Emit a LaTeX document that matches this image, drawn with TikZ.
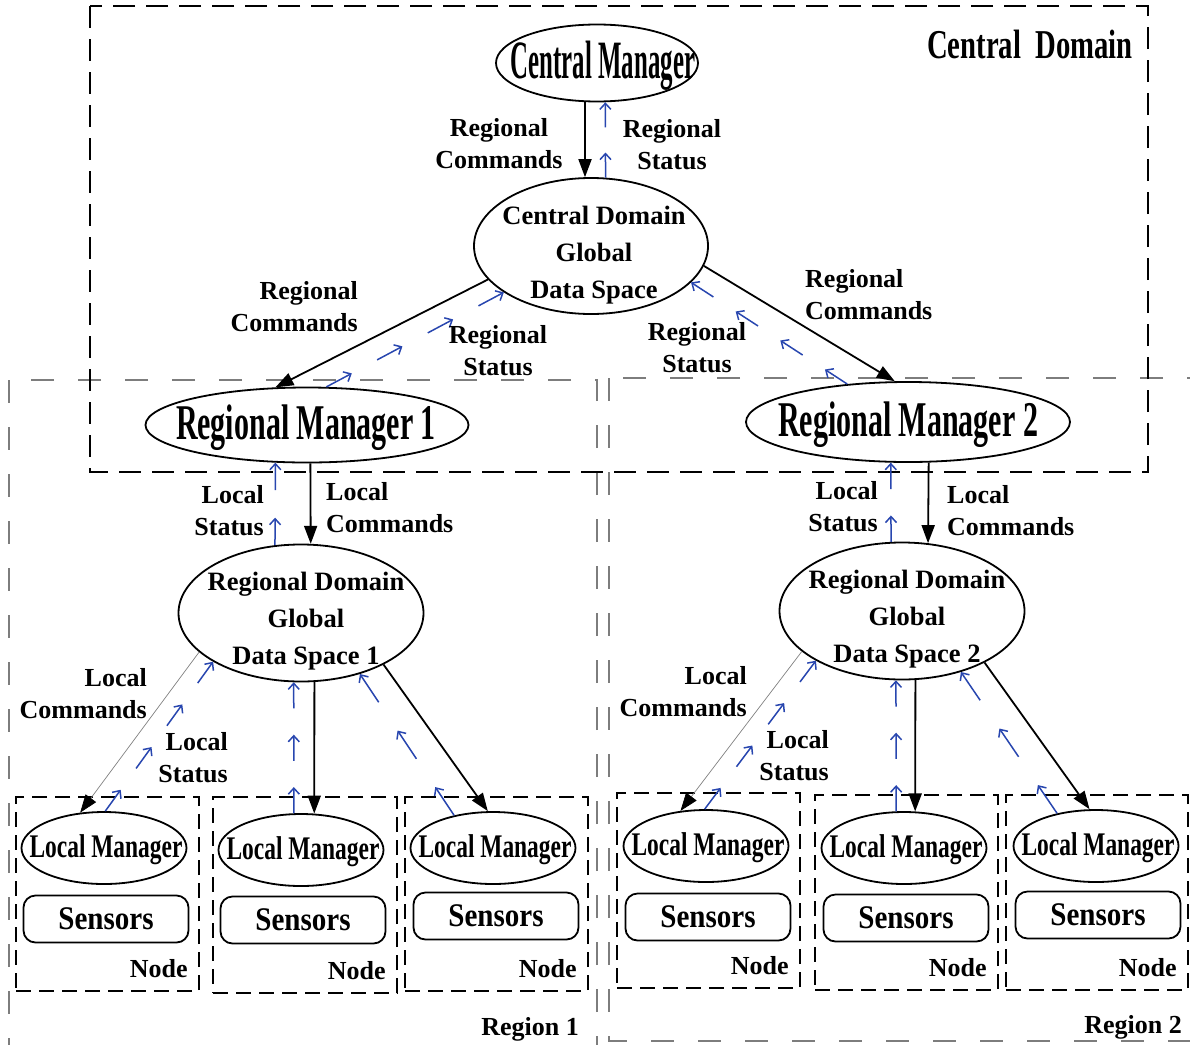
\documentclass[tikz,border=0pt]{standalone}
\usepackage{fontspec}
\usepackage{graphicx}
\setmainfont{Liberation Serif}
\usetikzlibrary{arrows.meta,shapes.geometric,calc}
\definecolor{statblue}{RGB}{40,70,175}
\definecolor{regiongray}{RGB}{125,125,125}
\newcommand{\narrowtext}[2]{\scalebox{#1}[1]{#2}}

\begin{document}
\begin{tikzpicture}[x=1pt, y=-1pt,
    ell/.style={draw, ellipse, line width=1.8pt, inner sep=0pt},
    mgrtext/.style={inner sep=0pt},
    gdstext/.style={font=\fontsize{26.5}{37}\selectfont\bfseries, align=center, inner sep=0pt},
    lbl/.style={font=\fontsize{26}{32}\selectfont\bfseries, inner sep=0pt},
    nodebox/.style={draw, line width=1.8pt, dash pattern=on 15pt off 8pt},
    sensorbox/.style={draw, rounded corners=12pt, line width=1.8pt,
                      minimum width=165pt, minimum height=47pt,
                      font=\fontsize{33}{33}\selectfont\bfseries},
    domainbox/.style={line width=1.8pt, dash pattern=on 22pt off 11pt},
    regionbox/.style={draw=regiongray, line width=1.4pt, dash pattern=on 23pt off 24pt},
    cmd/.style={-{Triangle[length=18pt,width=13pt]}, line width=1.8pt},
    thincmd/.style={-{Triangle[length=18pt,width=13pt,color=black]}, draw=gray, line width=0.7pt},
    status/.style={-{Straight Barb[length=6pt,width=11pt]}, draw=statblue, line width=1.5pt}
]
\useasboundingbox (0,0) rectangle (1190,1044);
\clip (0,0) rectangle (1190,1044);

% domain and regions
\draw[regionbox] (9,380) rectangle (597,1060);
\draw[regionbox] (609,378) rectangle (1210,1041);
\draw[domainbox] (90,6) rectangle (1148,472);
\node[font=\fontsize{41}{41}\selectfont\bfseries, inner sep=0pt] (cdtitle) at (1030,44)
    {\narrowtext{0.7}{Central\ \ Domain}};
\node[lbl] (reg1) at (530,1029) {Region 1};
\node[lbl] (reg2) at (1133,1027) {Region 2};

% central manager and global data space
\node[ell, minimum width=202pt, minimum height=77pt] (cm) at (597,63) {};
\node[mgrtext, font=\fontsize{54}{54}\selectfont\bfseries] (cmtext) at (603,66)
    {\narrowtext{0.46}{Central Manager}};
\node[ell, minimum width=234pt, minimum height=136pt] (cdgds) at (591,246) {};
\node[gdstext] (cdgdstext) at (594,255) {Central Domain\\Global\\Data Space};

% regional managers
\node[ell, minimum width=323pt, minimum height=75pt] (rm1) at (307,425) {};
\node[mgrtext, font=\fontsize{50}{50}\selectfont\bfseries] (rm1text) at (306,428)
    {\narrowtext{0.6}{Regional Manager 1}};
\node[ell, minimum width=324pt, minimum height=80pt] (rm2) at (908,422) {};
\node[mgrtext, font=\fontsize{50}{50}\selectfont\bfseries] (rm2text) at (908,425)
    {\narrowtext{0.6}{Regional Manager 2}};

% regional data spaces
\node[ell, minimum width=245pt, minimum height=137pt] (rd1) at (301,613) {};
\node[gdstext] (rd1text) at (306,621) {Regional Domain\\Global\\Data Space 1};
\node[ell, minimum width=245pt, minimum height=137pt] (rd2) at (902,611) {};
\node[gdstext] (rd2text) at (907,619) {Regional Domain\\Global\\Data Space 2};

% nodes of region 1
\node[nodebox, minimum width=183pt, minimum height=194pt] (nb1) at (107.5,894) {};
\node[nodebox, minimum width=184pt, minimum height=196pt] (nb2) at (305,895) {};
\node[nodebox, minimum width=183pt, minimum height=194pt] (nb3) at (496.5,894) {};
% nodes of region 2
\node[nodebox, minimum width=183pt, minimum height=195pt] (nb4) at (708.5,890.5) {};
\node[nodebox, minimum width=183pt, minimum height=195pt] (nb5) at (906.5,892.5) {};
\node[nodebox, minimum width=182pt, minimum height=195pt] (nb6) at (1097,892.5) {};

\node[ell, minimum width=165pt, minimum height=72pt] (lm1) at (104,848) {};
\node[ell, minimum width=165pt, minimum height=72pt] (lm2) at (301,850) {};
\node[ell, minimum width=165pt, minimum height=72pt] (lm3) at (493,848) {};
\node[ell, minimum width=165pt, minimum height=72pt] (lm4) at (706,846) {};
\node[ell, minimum width=165pt, minimum height=72pt] (lm5) at (904,848) {};
\node[ell, minimum width=165pt, minimum height=72pt] (lm6) at (1096,846) {};
\foreach \m in {1,...,6}
    \node[mgrtext, font=\fontsize{33}{33}\selectfont\bfseries] (lm\m text) at ($(lm\m)+(2,2)$)
        {\narrowtext{0.71}{Local Manager}};

\node[sensorbox] (s1) at (106,919) {\narrowtext{0.88}{Sensors}};
\node[sensorbox] (s2) at (303,920) {\narrowtext{0.88}{Sensors}};
\node[sensorbox] (s3) at (496,916) {\narrowtext{0.88}{Sensors}};
\node[sensorbox] (s4) at (708,917) {\narrowtext{0.88}{Sensors}};
\node[sensorbox] (s5) at (906,918) {\narrowtext{0.88}{Sensors}};
\node[sensorbox] (s6) at (1098,915) {\narrowtext{0.88}{Sensors}};
\foreach \m in {1,...,6}
    \node[lbl, anchor=south east] (nl\m) at ($(nb\m.south east)+(-12,-14)$) {Node};

% commands
\draw[cmd] (cm.253) -- (cdgds.95);
\draw[cmd] (cdgds.198) -- (rm1.130);
\draw[cmd] (cdgds.350) -- (rm2.108);
\draw[cmd] (rm1.275) -- (rd1.82);
\draw[cmd] (rm2.297) -- (rd2.69);
\draw[thincmd] (rd1.201) -- (lm1.124);
\draw[cmd] (rd1.281) -- (lm2.70);
\draw[cmd] (rd1.328) -- (lm3.98);
\draw[thincmd] (rd2.202) -- (lm4.126);
\draw[cmd] (rd2.281) -- (lm5.73);
\draw[cmd] (rd2.328) -- (lm6.100);

% status, drawn as broken arrows
\foreach \a/\b/\n in {cdgds.78/cm.282/2, rm1.63/cdgds.208/4, rm2.148/cdgds.340/4,
                      rd1.111/rm1.230/2, rd2.99/rm2.247/2,
                      lm1.88/rd1.209/4, lm2.101/rd1.264/3, lm3.140/rd1.314/3,
                      lm4.92/rd2.210/4, lm5.102/rd2.265/3, lm6.140/rd2.314/3}
    \foreach \k in {1,...,\n} {
        \pgfmathsetmacro\ta{(\k-1)/(\n-0.5)}
        \pgfmathsetmacro\tb{(\k-0.5)/(\n-0.5)}
        \draw[status] ($(\a)!\ta!(\b)$) -- ($(\a)!\tb!(\b)$);
    }

% labels
\node[lbl, align=center] (l1) at (499,144) {Regional\\Commands};
\node[lbl, align=center] (l2) at (672,145) {Regional\\Status};
\node[lbl, align=right, anchor=east] (l3) at (358,307) {Regional\\Commands};
\node[lbl, align=center] (l4) at (498,351) {Regional\\Status};
\node[lbl, align=center] (l5) at (697,348) {Regional\\Status};
\node[lbl, align=left, anchor=west] (l6) at (805,295) {Regional\\Commands};
\node[lbl, align=right, anchor=east] (l7) at (264,511) {Local\\Status};
\node[lbl, align=left, anchor=west] (l8) at (326,508) {Local\\Commands};
\node[lbl, align=right, anchor=east] (l9) at (878,507) {Local\\Status};
\node[lbl, align=left, anchor=west] (l10) at (947,511) {Local\\Commands};
\node[lbl, align=right, anchor=east] (l11) at (147,694) {Local\\Commands};
\node[lbl, align=right, anchor=east] (l12) at (228,758) {Local\\Status};
\node[lbl, align=right, anchor=east] (l13) at (747,692) {Local\\Commands};
\node[lbl, align=right, anchor=east] (l14) at (829,756) {Local\\Status};
\end{tikzpicture}
\end{document}
